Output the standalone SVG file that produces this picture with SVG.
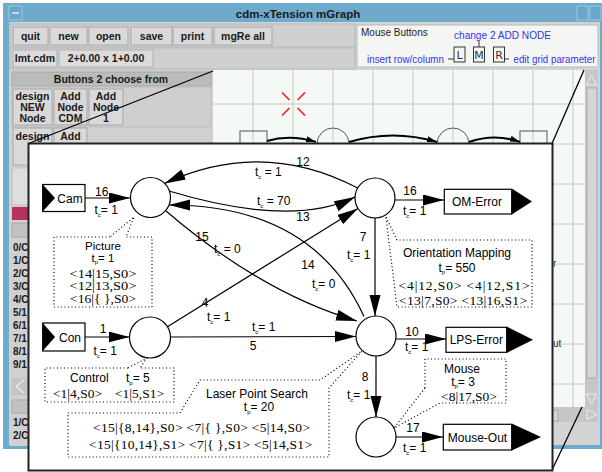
<svg xmlns="http://www.w3.org/2000/svg" width="602" height="472" viewBox="0 0 602 472">
<defs>
<style>
.ui{font-family:"Liberation Sans",Arial,sans-serif;font-size:10.5px;font-weight:bold;fill:#1a1a1a}
.btn{fill:#d9d9d9;stroke:#a8a8a8;stroke-width:1}
.blue{font-family:"Liberation Sans",Arial,sans-serif;font-size:10.5px;fill:#3434e6}
.lab{font-family:"Liberation Sans",Arial,sans-serif;font-size:12px;fill:#000}
.tok{font-family:"Liberation Serif","Times New Roman",serif;font-size:13.5px;fill:#000}
.sub{font-size:6px}
.edge{fill:none;stroke:#000;stroke-width:1.2}
.node{fill:#fff;stroke:#000;stroke-width:1.2}
.call{fill:none;stroke:#000;stroke-width:1.2;stroke-dasharray:1 2.5}
.grid{stroke:#c6c8c6;stroke-width:1}
</style>
<marker id="ah" markerUnits="userSpaceOnUse" markerWidth="21" markerHeight="12" refX="21" refY="5.5" orient="auto"><path d="M0,0 L21,5.5 L0,11 Z" fill="#000"/></marker>
<marker id="ahs" markerUnits="userSpaceOnUse" markerWidth="10" markerHeight="8" refX="10" refY="3" orient="auto"><path d="M0,0 L10,3 L0,6 Z" fill="#000"/></marker>
</defs>
<rect width="602" height="472" fill="#fff"/>
<g id="window">
<rect x="3" y="3" width="599" height="446" fill="#6eaacc"/>
<rect x="9" y="22" width="591" height="423" fill="#d4d4d4"/>
<rect x="9" y="6" width="13" height="14" fill="#6ca6c6" stroke="#9cc8e0"/>
<line x1="12" y1="13" x2="19" y2="13" stroke="#dfefff" stroke-width="1.5"/>
<rect x="577" y="6" width="11" height="14" fill="#6ca6c6" stroke="#9cc8e0"/>
<rect x="590" y="6" width="11" height="14" fill="#6ca6c6" stroke="#9cc8e0"/>
<text x="298" y="17.5" text-anchor="middle" class="ui" style="font-size:11.5px">cdm-xTension mGraph</text>
<rect x="10" y="24" width="345" height="23" fill="#cfcfcf" stroke="#b8b8b8"/>
<rect class="btn" x="13" y="27" width="35" height="18"/><text class="ui" x="30.5" y="39.5" text-anchor="middle">quit</text>
<rect class="btn" x="50" y="27" width="37" height="18"/><text class="ui" x="68.5" y="39.5" text-anchor="middle">new</text>
<rect class="btn" x="89" y="27" width="39" height="18"/><text class="ui" x="108.5" y="39.5" text-anchor="middle">open</text>
<rect class="btn" x="131" y="27" width="41" height="18"/><text class="ui" x="151.5" y="39.5" text-anchor="middle">save</text>
<rect class="btn" x="173" y="27" width="39" height="18"/><text class="ui" x="192.5" y="39.5" text-anchor="middle">print</text>
<rect class="btn" x="214" y="27" width="58" height="18"/><text class="ui" x="243" y="39.5" text-anchor="middle">mgRe all</text>
<rect x="10" y="48" width="345" height="21" fill="#cfcfcf" stroke="#b8b8b8"/>
<rect x="13" y="50" width="44" height="17" fill="#dcdcdc" stroke="#b0b0b0"/><text class="ui" x="35" y="62" text-anchor="middle">lmt.cdm</text>
<rect x="59" y="50" width="94" height="17" fill="#dcdcdc" stroke="#b0b0b0"/><text class="ui" x="106" y="62" text-anchor="middle">2+0.00 x  1+0.00</text>
<rect x="357" y="25" width="241" height="42" fill="#f4f6f4" stroke="#b8b8b8"/>
<text x="361" y="36" style="font-family:'Liberation Sans',Arial,sans-serif;font-size:10px;fill:#222">Mouse Buttons</text>
<text class="blue" x="454" y="39" textLength="97" lengthAdjust="spacingAndGlyphs">change 2 ADD NODE</text>
<text class="blue" x="367" y="63" textLength="77" lengthAdjust="spacingAndGlyphs">insert row/column</text>
<text class="blue" x="513.5" y="63" textLength="82" lengthAdjust="spacingAndGlyphs">edit grid parameter</text>
<g fill="none" stroke="#333" stroke-width="1">
<rect x="454" y="47" width="11" height="15"/><rect x="473.5" y="47" width="11" height="15"/><rect x="493.5" y="47" width="11" height="15"/>
<line x1="448" y1="59" x2="454" y2="59"/><line x1="479" y1="41" x2="479" y2="47"/><line x1="504.5" y1="59" x2="509" y2="59"/>
</g>
<g style="font-family:'DejaVu Sans',sans-serif;font-size:11px;fill:#333" text-anchor="middle">
<text x="459.5" y="59">L</text><text x="479" y="59">M</text><text x="499" y="59">R</text>
</g>
<rect x="10" y="70" width="203" height="376" fill="#d0d0d0"/>
<rect x="12" y="72" width="199" height="14" fill="#b9bcb9" stroke="#a8a8a8"/>
<text class="ui" x="111" y="83" text-anchor="middle">Buttons 2 choose from</text>
<rect x="12" y="87" width="199" height="40" fill="#cfcfcf" stroke="#bdbdbd"/>
<rect class="btn" x="13" y="89" width="39" height="36"/>
<rect class="btn" x="54" y="89" width="33" height="36"/>
<rect class="btn" x="89" y="89" width="34" height="36"/>
<g class="ui" text-anchor="middle">
<text x="32.5" y="100">design</text><text x="32.5" y="111">NEW</text><text x="32.5" y="122">Node</text>
<text x="70.5" y="100">Add</text><text x="70.5" y="111">Node</text><text x="70.5" y="122">CDM</text>
<text x="106" y="100">Add</text><text x="106" y="111">Node</text><text x="106" y="122">1</text>
</g>
<rect class="btn" x="13" y="128" width="39" height="37"/>
<rect class="btn" x="54" y="128" width="33" height="37"/>
<g class="ui" text-anchor="middle">
<text x="32.5" y="140">design</text><text x="32.5" y="151">N</text><text x="32.5" y="162">L</text>
<text x="70.5" y="140">Add</text>
</g>
<rect x="12" y="168" width="20" height="37" fill="#dedede" stroke="#c0c0c0"/>
<rect x="12" y="207" width="20" height="13" fill="#b8305c"/>
<rect x="12" y="223" width="20" height="14" fill="#bfc2bf" stroke="#a8a8a8"/>
<g class="ui" style="font-size:10px">
<text x="13" y="251">0/C</text><text x="13" y="264">1/C</text><text x="13" y="277">2/C</text><text x="13" y="290">3/C</text><text x="13" y="303">4/C</text>
<text x="13" y="316">5/1</text><text x="13" y="329">6/1</text><text x="13" y="342">7/1</text><text x="13" y="355">8/1</text><text x="13" y="368">9/1</text>
<text x="13" y="426">1/C</text><text x="13" y="439">2/C</text>
</g>
<rect x="12" y="378" width="20" height="17" fill="#c4c4c4"/>
<path d="M24,380 L16,386.5 L24,393" fill="none" stroke="#eee" stroke-width="1.2"/>
<rect x="12" y="400" width="20" height="13" fill="#bfc2bf" stroke="#a8a8a8"/>
<rect x="213" y="70" width="372" height="337" fill="#f5f9f5"/>
<g class="grid">
<line x1="253" y1="70" x2="253" y2="407"/><line x1="293" y1="70" x2="293" y2="407"/><line x1="333" y1="70" x2="333" y2="407"/><line x1="373" y1="70" x2="373" y2="407"/><line x1="413" y1="70" x2="413" y2="407"/><line x1="453" y1="70" x2="453" y2="407"/><line x1="493" y1="70" x2="493" y2="407"/><line x1="533" y1="70" x2="533" y2="407"/><line x1="573" y1="70" x2="573" y2="407"/>
<line x1="213" y1="104" x2="585" y2="104"/><line x1="213" y1="144" x2="585" y2="144"/><line x1="213" y1="184" x2="585" y2="184"/><line x1="213" y1="224" x2="585" y2="224"/><line x1="213" y1="264" x2="585" y2="264"/><line x1="213" y1="304" x2="585" y2="304"/><line x1="213" y1="344" x2="585" y2="344"/><line x1="213" y1="384" x2="585" y2="384"/>
</g>
<g stroke="#ff1a1a" stroke-width="1.6">
<line x1="282" y1="92.5" x2="289.5" y2="100"/><line x1="305" y1="92.5" x2="297.5" y2="100"/><line x1="282" y1="115.5" x2="289.5" y2="108"/><line x1="305" y1="115.5" x2="297.5" y2="108"/>
</g>
<g fill="none" stroke="#555" stroke-width="1">
<rect x="240" y="131" width="27" height="20"/>
<circle cx="333" cy="144" r="16"/><circle cx="453" cy="144" r="16"/>
<rect x="520" y="131" width="27" height="20"/>
</g>
<g fill="none" stroke="#000" stroke-width="2.2">
<path d="M267,141 Q290,134 316,142" marker-end="url(#ahs)"/>
<path d="M349,142 Q393,129 437,142" marker-end="url(#ahs)"/>
<path d="M469,142 Q495,133 520,142" marker-end="url(#ahs)"/>
</g>
<text x="553" y="267" style="font-family:'Liberation Sans',Arial,sans-serif;font-size:10px;fill:#333">r</text>
<text x="553" y="347" style="font-family:'Liberation Sans',Arial,sans-serif;font-size:10px;fill:#333">ut</text>
<rect x="585" y="70" width="13" height="337" fill="#c6c6c6"/>
<rect x="587" y="88" width="10" height="290" fill="#d6d6d6" stroke="#aaa"/>
<path d="M591.5,75 L586.5,85 L596.5,85 Z" fill="none" stroke="#eee"/>
<path d="M591.5,404 L586.5,394 L596.5,394 Z" fill="none" stroke="#eee"/>
<rect x="213" y="407" width="385" height="15" fill="#c6c6c6"/>
<rect x="540" y="410" width="18" height="11" fill="#d6d6d6" stroke="#aaa"/>
<path d="M597,414.5 L587,409.5 L587,419.5 Z" fill="none" stroke="#eee"/>
</g>
<g id="zoomlines" stroke="#000" stroke-width="1.3">
<line x1="213" y1="71" x2="28.5" y2="143.5"/>
<line x1="584" y1="70" x2="552" y2="143.5"/>
<line x1="582" y1="407" x2="552" y2="470"/>
</g>
<rect id="inset" x="28.5" y="143.5" width="524" height="327" fill="#fff" stroke="#222" stroke-width="2"/>
<g id="connectors">
<line class="edge" x1="85" y1="198" x2="130" y2="198" marker-end="url(#ah)"/>
<line class="edge" x1="85" y1="337" x2="129.5" y2="337" marker-end="url(#ah)"/>
<path class="edge" d="M357.7,188 Q262,138 164.6,183.4" marker-end="url(#ah)"/>
<path class="edge" d="M169,191 Q292,228 355,197" marker-end="url(#ah)"/>
<path class="edge" d="M364,316.5 Q313,205 169,205" marker-end="url(#ah)"/>
<path class="edge" d="M166,211 Q262.5,293.5 357,321" marker-end="url(#ah)"/>
<line class="edge" x1="167.4" y1="326.7" x2="358" y2="208.5" marker-end="url(#ah)"/>
<line class="edge" x1="170.5" y1="337" x2="356" y2="336.5" marker-end="url(#ah)"/>
<line class="edge" x1="375" y1="218" x2="375" y2="316" marker-end="url(#ah)"/>
<line class="edge" x1="395" y1="200" x2="444" y2="200" marker-end="url(#ah)"/>
<line class="edge" x1="396" y1="339" x2="446" y2="339" marker-end="url(#ah)"/>
<line class="edge" x1="376" y1="356" x2="376" y2="417" marker-end="url(#ah)"/>
<line class="edge" x1="396" y1="437" x2="443" y2="437" marker-end="url(#ah)"/>
<path class="call" d="M110,237 H54 V307 H152 V237 H126 L134,217 Z"/>
<path class="call" d="M128,368 H45 V402 H174 V368 H140 L147,358 Z"/>
<path class="call" d="M68,413 H180 L200,380 H320 L362,351 L329,388 V457 H68 Z"/>
<path class="call" d="M386,217 L397,240 H532 V307 H397 Z"/>
<path class="call" d="M425,388 V359 H506 V403 H440 L394,428 L425,388"/>
</g>
<g id="edge-labels" class="lab">
<text x="101.7" y="196" text-anchor="middle">16</text>
<text x="94.5" y="214">t<tspan class="sub" dy="2.5">c</tspan><tspan dy="-2.5">= 1</tspan></text>
<text x="103" y="333" text-anchor="middle">1</text>
<text x="93.5" y="355">t<tspan class="sub" dy="2.5">c</tspan><tspan dy="-2.5">= 1</tspan></text>
<text x="303" y="166" text-anchor="middle">12</text>
<text x="255" y="176">t<tspan class="sub" dy="2.5">c</tspan><tspan dy="-2.5"> = 1</tspan></text>
<text x="257" y="205">t<tspan class="sub" dy="2.5">c</tspan><tspan dy="-2.5"> = 70</tspan></text>
<text x="303" y="221" text-anchor="middle">13</text>
<text x="202" y="241" text-anchor="middle">15</text>
<text x="214" y="253">t<tspan class="sub" dy="2.5">c</tspan><tspan dy="-2.5"> = 0</tspan></text>
<text x="205" y="307" text-anchor="middle">4</text>
<text x="207" y="321">t<tspan class="sub" dy="2.5">c</tspan><tspan dy="-2.5">= 1</tspan></text>
<text x="308" y="269" text-anchor="middle">14</text>
<text x="312" y="288">t<tspan class="sub" dy="2.5">c</tspan><tspan dy="-2.5">= 0</tspan></text>
<text x="363" y="241" text-anchor="middle">7</text>
<text x="347" y="259">t<tspan class="sub" dy="2.5">c</tspan><tspan dy="-2.5">= 1</tspan></text>
<text x="410" y="195" text-anchor="middle">16</text>
<text x="403" y="215">t<tspan class="sub" dy="2.5">c</tspan><tspan dy="-2.5">= 1</tspan></text>
<text x="252" y="331">t<tspan class="sub" dy="2.5">c</tspan><tspan dy="-2.5">= 1</tspan></text>
<text x="253" y="350" text-anchor="middle">5</text>
<text x="412" y="336" text-anchor="middle">10</text>
<text x="405" y="351">t<tspan class="sub" dy="2.5">c</tspan><tspan dy="-2.5">= 1</tspan></text>
<text x="365" y="381" text-anchor="middle">8</text>
<text x="347" y="399">t<tspan class="sub" dy="2.5">c</tspan><tspan dy="-2.5">= 1</tspan></text>
<text x="413" y="432" text-anchor="middle">17</text>
<text x="403" y="452">t<tspan class="sub" dy="2.5">c</tspan><tspan dy="-2.5">= 1</tspan></text>
</g>
<g id="node-cam"><rect class="node" x="42.7" y="184.5" width="42.3" height="27"/><path d="M42.7,184.5 L55,198 L42.7,211.5 Z"/><text class="lab" x="70" y="202.5" text-anchor="middle">Cam</text></g>
<g id="node-con"><rect class="node" x="42.7" y="323" width="42.3" height="28"/><path d="M42.7,323 L55,337 L42.7,351 Z"/><text class="lab" x="70" y="341.5" text-anchor="middle">Con</text></g>
<g id="node-picture"><circle class="node" cx="150.5" cy="197.5" r="20"/>
<g text-anchor="middle"><text class="lab" x="103" y="250" style="font-size:11.5px">Picture</text><text class="lab" x="103" y="261.5" style="font-size:11.5px">t<tspan class="sub" dy="2.5">p</tspan><tspan dy="-2.5">= 1</tspan></text></g>
<g style="font-size:12.5px"><text class="tok" x="69.5" y="277.5" style="font-size:12.5px" textLength="67" lengthAdjust="spacingAndGlyphs">&lt;14|15,S0&gt;</text><text class="tok" x="69.5" y="290" style="font-size:12.5px" textLength="67" lengthAdjust="spacingAndGlyphs">&lt;12|13,S0&gt;</text><text class="tok" x="70" y="302.5" style="font-size:12.5px" textLength="66" lengthAdjust="spacingAndGlyphs">&lt;16|{ },S0&gt;</text></g></g>
<g id="node-om"><circle class="node" cx="375" cy="198" r="20"/>
<g text-anchor="middle"><text class="lab" x="457" y="257">Orientation Mapping</text><text class="lab" x="457" y="271.5">t<tspan class="sub" dy="2.5">p</tspan><tspan dy="-2.5">= 550</tspan></text></g>
<text class="tok" x="398.5" y="290" textLength="131" lengthAdjust="spacing">&lt;4|12,S0&gt; &lt;4|12,S1&gt;</text><text class="tok" x="399" y="305" textLength="128" lengthAdjust="spacing">&lt;13|7,S0&gt; &lt;13|16,S1&gt;</text></g>
<g id="node-control"><circle class="node" cx="150" cy="337.5" r="20.5"/>
<text class="lab" x="70" y="382">Control</text><text class="lab" x="126" y="382">t<tspan class="sub" dy="2.5">p</tspan><tspan dy="-2.5">= 5</tspan></text>
<text class="tok" x="53" y="398">&lt;1|4,S0&gt;</text><text class="tok" x="115" y="398">&lt;1|5,S1&gt;</text></g>
<g id="node-lps"><circle class="node" cx="376" cy="336" r="20"/>
<g text-anchor="middle"><text class="lab" x="257" y="398">Laser Point Search</text><text class="lab" x="259" y="411">t<tspan class="sub" dy="2.5">p</tspan><tspan dy="-2.5">= 20</tspan></text></g>
<text class="tok" x="93" y="432" textLength="217" lengthAdjust="spacing">&lt;15|{8,14},S0&gt; &lt;7|{ },S0&gt; &lt;5|14,S0&gt;</text>
<text class="tok" x="89" y="449" textLength="223" lengthAdjust="spacing">&lt;15|{10,14},S1&gt; &lt;7|{ },S1&gt; &lt;5|14,S1&gt;</text></g>
<g id="node-mouse"><circle class="node" cx="376" cy="437" r="20"/>
<g text-anchor="middle"><text class="lab" x="462" y="373">Mouse</text><text class="lab" x="463" y="385.5">t<tspan class="sub" dy="2.5">p</tspan><tspan dy="-2.5">= 3</tspan></text>
<text class="tok" x="469" y="400.5">&lt;8|17,S0&gt;</text></g></g>
<g id="node-omerror"><rect class="node" x="444.3" y="189.3" width="67.4" height="24.7"/><path d="M511.7,188.5 L532,201.5 L511.7,214.5 Z"/><text class="lab" x="477" y="205.5" text-anchor="middle">OM-Error</text></g>
<g id="node-lpserror"><rect class="node" x="446" y="327.3" width="60.7" height="25"/><path d="M506.7,326.5 L533,339.8 L506.7,353 Z"/><text class="lab" x="476.3" y="344" text-anchor="middle">LPS-Error</text></g>
<g id="node-mouseout"><rect class="node" x="443.3" y="424.3" width="68.4" height="25.7"/><path d="M511.7,423.5 L541,437 L511.7,450.5 Z"/><text class="lab" x="477.5" y="441.5" text-anchor="middle">Mouse-Out</text></g>
</svg>
